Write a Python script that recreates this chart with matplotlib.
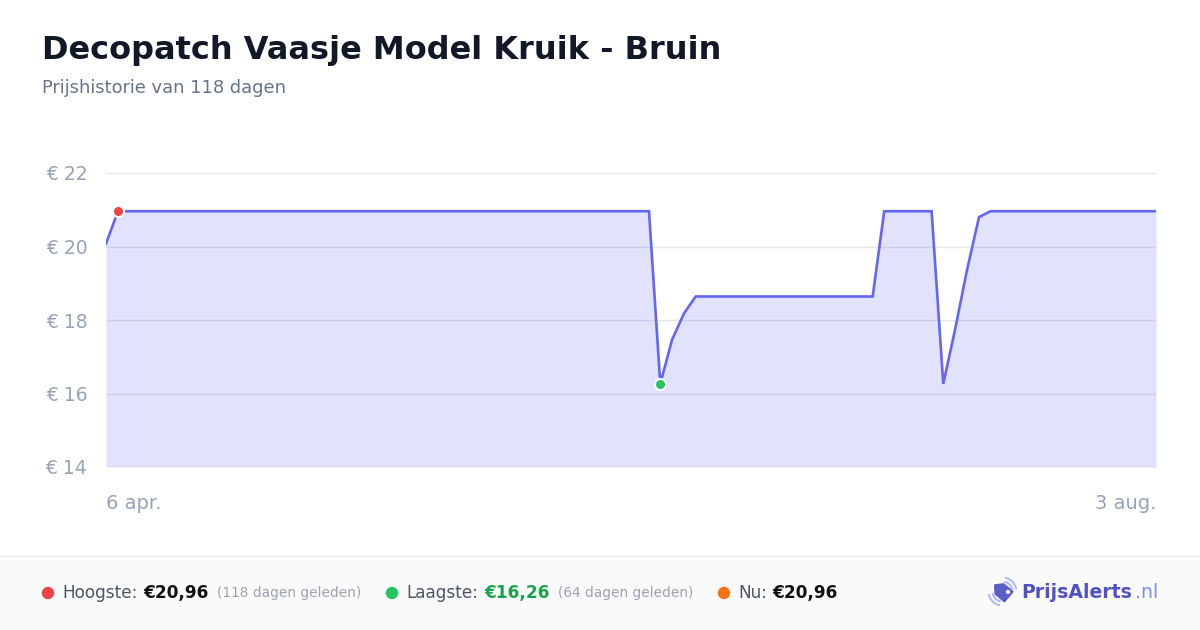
import matplotlib
matplotlib.use("Agg")
import numpy as np
import matplotlib.pyplot as plt
from matplotlib.patches import Rectangle, Polygon, Arc, Circle

# ---- data ----
days = [0, 1.36, 61.54, 62.82, 64.15, 65.51, 66.83, 86.89, 88.20, 93.57,
        94.89, 96.22, 97.54, 98.94, 100.26, 119]
prices = [20.08, 20.96, 20.96, 16.26, 17.46, 18.18, 18.64, 18.64, 20.96, 20.96,
          16.26, 17.73, 19.31, 20.80, 20.96, 20.96]
y_ticks = [14, 16, 18, 20, 22]
y_tick_labels = ["€ 14", "€ 16", "€ 18", "€ 20", "€ 22"]
x_tick_pos = [0, 119]
x_tick_labels = ["6 apr.", "3 aug."]
max_idx = 1
min_idx = 3

title = "Decopatch Vaasje Model Kruik - Bruin"
subtitle = "Prijshistorie van 118 dagen"

W, H = 1200, 630
fig = plt.figure(figsize=(12, 6.3), dpi=100)
fig.patch.set_facecolor("white")

# overlay axes in pixel coordinates
ov = fig.add_axes([0, 0, 1, 1])
ov.set_xlim(0, W)
ov.set_ylim(H, 0)
ov.axis("off")
ov.patch.set_visible(False)

# main chart axes
L, R, T, B = 106, 1156, 173, 467
ax = fig.add_axes([L / W, (H - B) / H, (R - L) / W, (B - T) / H])
ax.set_xlim(0, 119)
ax.set_ylim(14, 22)
ax.patch.set_visible(False)
for s in ax.spines.values():
    s.set_visible(False)
ax.set_yticks(y_ticks)
ax.set_yticklabels(y_tick_labels)
ax.set_xticks([])
ax.tick_params(axis="y", length=0, pad=13.5, labelsize=13.5, labelcolor="#94a3b8")
ax.grid(axis="y", color="#e5e7eb", linewidth=1)
ax.set_axisbelow(True)

line_c = "#6366f1"
ax.fill_between(days, prices, 14, color=line_c, alpha=0.19, linewidth=0, zorder=2)
ax.plot(days, prices, color=line_c, linewidth=1.9, zorder=3, solid_joinstyle="miter")
ax.plot(days[max_idx], prices[max_idx], "o", color="#ef4444", markersize=8,
        markeredgecolor="white", markeredgewidth=1.5, zorder=5, clip_on=False)
ax.plot(days[min_idx], prices[min_idx], "o", color="#22c55e", markersize=8,
        markeredgecolor="white", markeredgewidth=1.5, zorder=5, clip_on=False)

for p, lab, ha in zip(x_tick_pos, x_tick_labels, ["left", "right"]):
    ax.text(p, -0.125, lab, transform=ax.get_xaxis_transform(), ha=ha, va="center",
            fontsize=14, color="#94a3b8")

# title / subtitle
ov.text(42, 59, title, fontsize=23, fontweight="bold", color="#111827",
        ha="left", va="baseline")
ov.text(42, 93, subtitle, fontsize=12.9, color="#64748b", ha="left", va="baseline")

# footer
ov.add_patch(Rectangle((0, 556), W, H - 556, facecolor="#fafafa", edgecolor="none"))
ov.plot([0, W], [556, 556], color="#eeeeee", linewidth=1)

fy = 593
fs = 12.2
ov.add_patch(Circle((48, fy), 5.5, color="#ef4444"))
ov.text(62, fy, "Hoogste:", fontsize=fs, color="#4b5563", ha="left", va="center")
ov.text(143, fy, "€20,96", fontsize=fs, color="#111111", fontweight="bold", ha="left", va="center")
ov.text(217, fy, "(118 dagen geleden)", fontsize=9.9, color="#9ca3af", ha="left", va="center")
ov.add_patch(Circle((392, fy), 5.5, color="#22c55e"))
ov.text(406, fy, "Laagste:", fontsize=fs, color="#4b5563", ha="left", va="center")
ov.text(484, fy, "€16,26", fontsize=fs, color="#16a34a", fontweight="bold", ha="left", va="center")
ov.text(558, fy, "(64 dagen geleden)", fontsize=9.9, color="#9ca3af", ha="left", va="center")
ov.add_patch(Circle((724, fy), 5.5, color="#f97316"))
ov.text(738, fy, "Nu:", fontsize=fs, color="#4b5563", ha="left", va="center")
ov.text(772, fy, "€20,96", fontsize=fs, color="#111111", fontweight="bold", ha="left", va="center")

# logo icon: a price tag with signal arcs
cx, cy = 1002.5, 591.5
local = np.array([(0, -10), (6.5, -4), (6.5, 8), (-6.5, 8), (-6.5, -4)])
ang = np.deg2rad(-50)
rot = np.array([[np.cos(ang), -np.sin(ang)], [np.sin(ang), np.cos(ang)]])
pts = local @ rot.T + np.array([cx, cy])
ov.add_patch(Polygon(pts, closed=True, facecolor="#5b5fc7", edgecolor="#5b5fc7",
                     linewidth=1.2, joinstyle="round"))
hole = np.array([3.2, 4.5]) @ rot.T + np.array([cx, cy])
ov.add_patch(Circle(tuple(hole), 1.4, color="white"))
for r in (10, 14):
    ov.add_patch(Arc((cx, cy), 2 * r, 2 * r, angle=0, theta1=280, theta2=350,
                     color="#a5b4fc", linewidth=1.3))
    ov.add_patch(Arc((cx, cy), 2 * r, 2 * r, angle=0, theta1=100, theta2=170,
                     color="#a5b4fc", linewidth=1.3))
ov.text(1021, fy, "PrijsAlerts", fontsize=13.6, fontweight="bold", color="#4f52c4",
        ha="left", va="center")
ov.text(1158, fy, ".nl", fontsize=13.6, color="#818cf8", ha="right", va="center")

fig.savefig("out.png", dpi=100, facecolor="white")
